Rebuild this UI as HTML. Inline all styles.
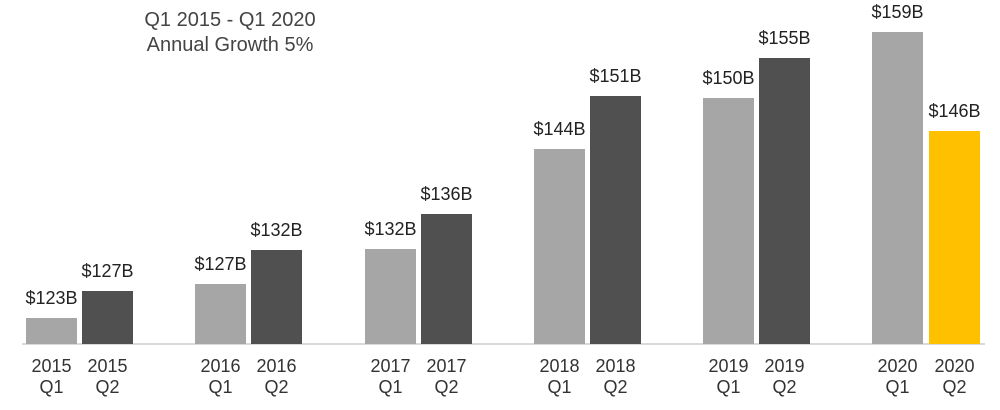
<!DOCTYPE html>
<html><head><style>
body{margin:0;background:#fff;width:1000px;height:405px;overflow:hidden;font-family:"Liberation Sans",sans-serif;}
</style></head><body>
<svg width="1000" height="405" xmlns="http://www.w3.org/2000/svg" font-family="Liberation Sans, sans-serif">
<text x="230" y="26" text-anchor="middle" font-size="20" fill="#444">Q1 2015 - Q1 2020</text>
<text x="230" y="51" text-anchor="middle" font-size="20" fill="#444">Annual Growth 5%</text>
<line x1="22" y1="344" x2="985" y2="344" stroke="#d9d9d9" stroke-width="2"/>
<g font-size="18" fill="#222" text-anchor="middle">
<rect x="26" y="318" width="51" height="26" fill="#a6a6a6"/><text x="51.5" y="304">$123B</text>
<rect x="82" y="291" width="51" height="53" fill="#505050"/><text x="107.5" y="277">$127B</text>
<rect x="195" y="284" width="51" height="60" fill="#a6a6a6"/><text x="220.5" y="270">$127B</text>
<rect x="251" y="250" width="51" height="94" fill="#505050"/><text x="276.5" y="236">$132B</text>
<rect x="365" y="249" width="51" height="95" fill="#a6a6a6"/><text x="390.5" y="235">$132B</text>
<rect x="421" y="214" width="51" height="130" fill="#505050"/><text x="446.5" y="200">$136B</text>
<rect x="534" y="149" width="51" height="195" fill="#a6a6a6"/><text x="559.5" y="135">$144B</text>
<rect x="590" y="96" width="51" height="248" fill="#505050"/><text x="615.5" y="82">$151B</text>
<rect x="703" y="98" width="51" height="246" fill="#a6a6a6"/><text x="728.5" y="84">$150B</text>
<rect x="759" y="58" width="51" height="286" fill="#505050"/><text x="784.5" y="44">$155B</text>
<rect x="872" y="32" width="51" height="312" fill="#a6a6a6"/><text x="897.5" y="18">$159B</text>
<rect x="929" y="131" width="51" height="213" fill="#ffc000"/><text x="954.5" y="117">$146B</text>
</g>
<g font-size="18" fill="#333" text-anchor="middle">
<text x="51.5" y="372">2015</text><text x="51.5" y="393">Q1</text>
<text x="107.5" y="372">2015</text><text x="107.5" y="393">Q2</text>
<text x="220.5" y="372">2016</text><text x="220.5" y="393">Q1</text>
<text x="276.5" y="372">2016</text><text x="276.5" y="393">Q2</text>
<text x="390.5" y="372">2017</text><text x="390.5" y="393">Q1</text>
<text x="446.5" y="372">2017</text><text x="446.5" y="393">Q2</text>
<text x="559.5" y="372">2018</text><text x="559.5" y="393">Q1</text>
<text x="615.5" y="372">2018</text><text x="615.5" y="393">Q2</text>
<text x="728.5" y="372">2019</text><text x="728.5" y="393">Q1</text>
<text x="784.5" y="372">2019</text><text x="784.5" y="393">Q2</text>
<text x="897.5" y="372">2020</text><text x="897.5" y="393">Q1</text>
<text x="954.5" y="372">2020</text><text x="954.5" y="393">Q2</text>
</g>
</svg>
</body></html>
